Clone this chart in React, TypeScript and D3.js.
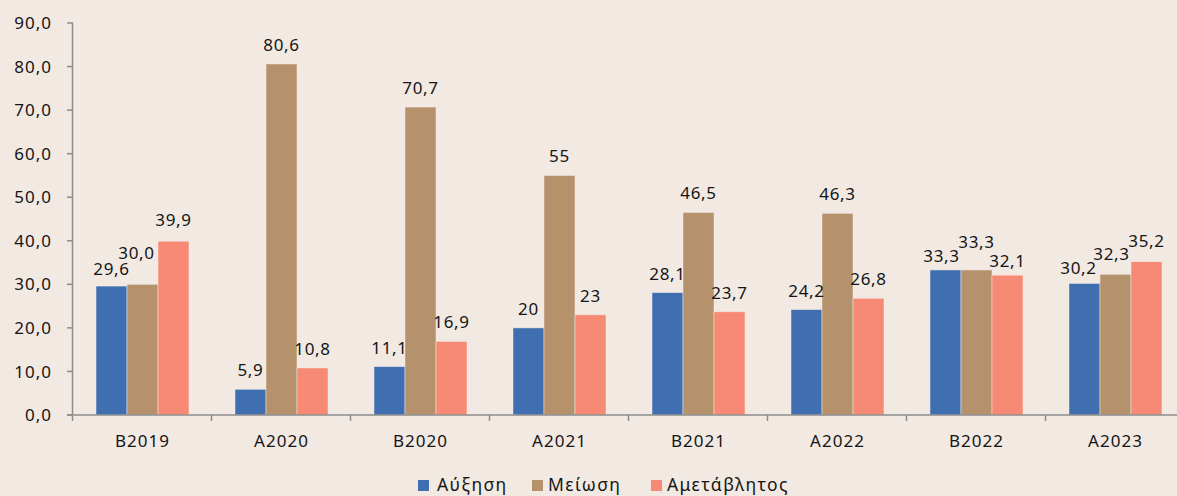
import React from "react";
import * as d3 from "d3";

const categories = ["B2019", "A2020", "B2020", "A2021", "B2021", "A2022", "B2022", "A2023"];
const seriesNames = ["Αύξηση", "Μείωση", "Αμετάβλητος"];
const increase = [29.6, 5.9, 11.1, 20, 28.1, 24.2, 33.3, 30.2];
const decrease = [30.0, 80.6, 70.7, 55, 46.5, 46.3, 33.3, 32.3];
const unchanged = [39.9, 10.8, 16.9, 23, 23.7, 26.8, 32.1, 35.2];
const increaseLabels = ["29,6", "5,9", "11,1", "20", "28,1", "24,2", "33,3", "30,2"];
const decreaseLabels = ["30,0", "80,6", "70,7", "55", "46,5", "46,3", "33,3", "32,3"];
const unchangedLabels = ["39,9", "10,8", "16,9", "23", "23,7", "26,8", "32,1", "35,2"];
const yTicks = [0, 10, 20, 30, 40, 50, 60, 70, 80, 90];

// label nudges [dx, dy] for overlapping labels (series x category)
const labelNudges: [number, number][][] = [
  [[0, 2], [0, 0], [0, 0], [0, 0], [0, 0], [0, 0], [-4, 5], [-6, 4]],
  [[-6, -12], [0, 0], [0, 0], [0, 0], [0, 0], [0, 0], [0, -9], [-4, -1]],
  [[0, -2], [0, 0], [0, 0], [0, 0], [0, 0], [0, 0], [0, 5], [0, -2]],
];

const colors = ["#3F6EB1", "#B5916C", "#F68A75"];
const values = [increase, decrease, unchanged];
const labels = [increaseLabels, decreaseLabels, unchangedLabels];

const W = 1177;
const H = 496;
const FONT = "'Noto Sans', sans-serif";

export default function App() {
  const left = 73;
  const bandW = 139;
  const x0 = d3
    .scaleBand<string>()
    .domain(categories)
    .range([left, left + bandW * categories.length])
    .padding(0);
  const x1 = d3.scaleBand<string>().domain(seriesNames).range([23, bandW - 23]).padding(0);
  const y = d3.scaleLinear().domain([0, 90]).range([415, 23]);
  const fmt = (v: number) => v.toFixed(1).replace(".", ",");

  return (
    <svg
      width={W}
      height={H}
      style={{ position: "absolute", left: 0, top: 0, background: "#F2E9E3" }}
      fontFamily={FONT}
    >
      <rect x={0} y={0} width={W} height={H} fill="#F2E9E3" />
      {/* bars */}
      {categories.map((c, ci) =>
        seriesNames.map((s, si) => {
          const v = values[si][ci];
          const bx = (x0(c) as number) + (x1(s) as number);
          return (
            <rect
              key={c + s}
              x={bx}
              y={y(v)}
              width={x1.bandwidth()}
              height={y(0) - y(v)}
              fill={colors[si]}
              stroke="#F5EEE9"
              strokeOpacity={0.6}
              strokeWidth={0.8}
            />
          );
        })
      )}
      {/* y axis */}
      <line x1={left - 0.5} x2={left - 0.5} y1={y(90)} y2={y(0)} stroke="#8C8C8C" strokeWidth={1.5} />
      {yTicks.map((t) => (
        <g key={t}>
          <line x1={left - 6} x2={left} y1={y(t)} y2={y(t)} stroke="#8C8C8C" strokeWidth={1.5} />
          <text
            x={52}
            y={y(t)}
            dy="0.36em"
            textAnchor="end"
            fontSize={17}
            letterSpacing={1}
            fill="#151515"
          >
            {fmt(t)}
          </text>
        </g>
      ))}
      {/* x axis */}
      <line x1={left - 6} x2={W} y1={y(0)} y2={y(0)} stroke="#8C8C8C" strokeWidth={1.5} />
      {d3.range(categories.length + 1).map((i) => (
        <line
          key={i}
          x1={left + i * bandW - 0.5}
          x2={left + i * bandW - 0.5}
          y1={y(0)}
          y2={y(0) + 6}
          stroke="#8C8C8C"
          strokeWidth={1.5}
        />
      ))}
      {categories.map((c) => (
        <text
          key={c}
          x={(x0(c) as number) + bandW / 2}
          y={447}
          textAnchor="middle"
          fontSize={17}
          letterSpacing={1}
          fill="#151515"
        >
          {c}
        </text>
      ))}
      {/* data labels */}
      {categories.map((c, ci) =>
        seriesNames.map((s, si) => {
          const v = values[si][ci];
          const [dx, dy] = labelNudges[si][ci];
          const cx = (x0(c) as number) + (x1(s) as number) + x1.bandwidth() / 2;
          return (
            <text
              key={"l" + c + s}
              x={cx + dx}
              y={y(v) - 13 + dy}
              textAnchor="middle"
              fontSize={17}
              letterSpacing={0.7}
              fill="#151515"
            >
              {labels[si][ci]}
            </text>
          );
        })
      )}
      {/* legend */}
      {(() => {
        const items = [
          { x: 418, tx: 437 },
          { x: 532, tx: 548 },
          { x: 651, tx: 667 },
        ];
        return seriesNames.map((s, si) => (
          <g key={"lg" + s}>
            <rect x={items[si].x} y={480} width={11} height={11} fill={colors[si]} />
            <text x={items[si].tx} y={491} fontSize={17.5} letterSpacing={1.4} fill="#151515">
              {s}
            </text>
          </g>
        ));
      })()}
    </svg>
  );
}
